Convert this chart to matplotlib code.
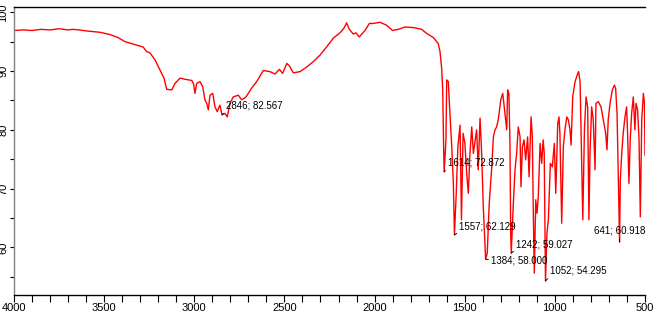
import matplotlib
matplotlib.use("Agg")
import matplotlib.pyplot as plt
from matplotlib.ticker import MultipleLocator

plt.rcParams['font.family'] = ['Liberation Sans', 'DejaVu Sans']

wavenumber = [
    4000, 3950, 3900, 3850, 3800, 3750, 3700, 3673, 3640, 3590, 3523, 3467, 3423, 3384,
    3329, 3284, 3264, 3246, 3218, 3181, 3168, 3153, 3125, 3107, 3079, 3051, 3014, 3004,
    2996, 2987, 2968, 2953, 2941, 2931, 2922, 2913, 2898, 2885, 2873, 2858, 2846, 2830,
    2817, 2802, 2784, 2756, 2737, 2713, 2682, 2654, 2617, 2580, 2552, 2528, 2510, 2487,
    2473, 2451, 2414, 2376, 2340, 2303, 2266, 2229, 2192, 2170, 2155, 2140, 2118, 2103,
    2085, 2053, 2029, 2007, 1970, 1933, 1900, 1868, 1831, 1785, 1739, 1711, 1674, 1647,
    1637, 1628, 1622, 1617, 1614, 1604, 1600, 1591, 1582, 1571, 1563, 1557, 1547, 1538,
    1526, 1518, 1509, 1499, 1489, 1480, 1471, 1461, 1452, 1434, 1425, 1415, 1406, 1397,
    1384, 1375, 1364, 1350, 1341, 1332, 1323, 1314, 1300, 1289, 1277, 1267, 1262, 1255,
    1249, 1245, 1242, 1231, 1221, 1212, 1203, 1193, 1188, 1180, 1171, 1162, 1151, 1143,
    1132, 1125, 1120, 1114, 1106, 1099, 1092, 1082, 1073, 1065, 1059, 1052, 1044, 1036,
    1025, 1014, 1003, 995, 984, 977, 972, 962, 953, 944, 934, 925, 916, 910,
    901, 888, 873, 868, 860, 851, 845, 836, 827, 818, 814, 811, 805, 796,
    787, 777, 772, 759, 744, 731, 718, 711, 704, 694, 681, 670, 663, 655,
    648, 641, 637, 629, 621, 611, 602, 596, 589, 582, 574, 565, 556, 550,
    541, 533, 526, 518, 509, 503, 500,
]
transmittance = [
    96.9, 97.0, 96.9, 97.1, 97.0, 97.2, 97.0, 97.1, 97.0, 96.8, 96.6, 96.2, 95.7, 95.0,
    94.5, 94.1, 93.3, 93.1, 91.9, 89.6, 88.8, 86.9, 86.8, 87.9, 88.8, 88.6, 88.4, 87.8,
    86.2, 87.9, 88.2, 87.3, 85.1, 84.5, 83.4, 85.9, 86.2, 83.9, 83.1, 84.2, 82.567, 82.8,
    82.2, 84.5, 85.6, 85.9, 85.1, 85.6, 87.1, 88.2, 90.1, 89.9, 89.5, 90.3, 89.6, 91.3,
    90.9, 89.7, 89.9, 90.7, 91.6, 92.7, 94.1, 95.6, 96.5, 97.3, 98.2, 97.1, 96.3, 96.5,
    95.8, 96.9, 98.1, 98.1, 98.3, 97.8, 96.9, 97.1, 97.5, 97.4, 97.1, 96.4, 95.7, 94.7,
    93.3, 90.5, 86.8, 77.1, 72.872, 78.3, 88.5, 88.2, 82.8, 76.6, 70.9, 62.129, 69.2, 77.1,
    80.8, 64.7, 79.4, 77.7, 72.6, 69.2, 76.0, 80.5, 76.0, 80.0, 73.2, 82.0, 76.0, 66.9,
    58.0, 59.0, 67.5, 73.7, 78.8, 80.0, 80.5, 81.7, 85.1, 86.2, 82.8, 80.0, 86.8, 86.2,
    77.7, 62.4, 59.027, 66.9, 73.2, 76.0, 80.5, 78.8, 70.3, 77.1, 78.3, 74.9, 78.8, 72.0,
    82.2, 78.8, 66.9, 55.6, 68.1, 65.8, 68.6, 77.7, 74.3, 78.3, 76.0, 54.295, 62.4, 64.7,
    74.3, 73.7, 77.7, 69.2, 81.1, 82.2, 79.4, 64.1, 77.1, 80.0, 82.2, 81.7, 80.0, 77.4,
    85.6, 88.2, 89.6, 89.9, 88.1, 74.3, 64.7, 80.0, 85.6, 83.9, 73.7, 64.7, 76.0, 83.9,
    81.7, 73.2, 84.5, 84.8, 83.9, 81.7, 79.4, 76.6, 81.7, 84.5, 86.8, 87.6, 87.1, 82.8,
    72.0, 60.918, 71.5, 76.0, 79.4, 82.2, 83.9, 78.8, 70.9, 78.3, 82.8, 85.6, 80.0, 84.5,
    83.4, 78.3, 65.2, 81.7, 86.2, 84.5, 75.7,
]

peak_wn = [2846, 1614, 1557, 1384, 1242, 1052, 641]
peak_T = [82.567, 72.872, 62.129, 58.000, 59.027, 54.295, 60.918]
label_offsets = [(4, 9), (4, 9), (5, 8), (5.5, -1), (5, 9), (4.5, 10), (0, 11)]
label_ha = ['left', 'left', 'left', 'left', 'left', 'left', 'center']
leader_rel = [(0, 0), (0, 0), (0, 0), (0, 0.5), (0, 0), (0, 0), (0.5, 0)]

fig = plt.figure(figsize=(6.62, 3.18), dpi=100)
ax = fig.add_axes([14 / 662, 23 / 318, 631 / 662, 288 / 318])

ax.plot(wavenumber, transmittance, color='#ff0000', lw=1.0)

ax.set_xlim(4000, 500)
ax.set_ylim(51.9, 100.9)

ax.spines['right'].set_visible(False)
ax.spines['top'].set_color('black')
ax.spines['top'].set_linewidth(1.0)
ax.spines['bottom'].set_color('black')
ax.spines['bottom'].set_linewidth(1.0)
ax.spines['left'].set_color('#808080')
ax.spines['left'].set_linewidth(1.0)

ax.xaxis.set_major_locator(MultipleLocator(500))
ax.xaxis.set_minor_locator(MultipleLocator(100))
ax.yaxis.set_major_locator(MultipleLocator(10))
ax.yaxis.set_minor_locator(MultipleLocator(5))

ax.tick_params(axis='x', which='both', direction='out', length=4.7, width=0.8,
               color='black', labelsize=8, pad=1)
ax.tick_params(axis='y', which='both', direction='out', length=2.9, width=0.8,
               color='black', labelsize=8, pad=1)
ax.tick_params(top=False, right=False)

ax.set_yticks([60, 70, 80, 90, 100])
for lab in ax.get_yticklabels():
    lab.set_rotation(90)
    lab.set_va('center')

for wn, t, off, ha, rp in zip(peak_wn, peak_T, label_offsets, label_ha, leader_rel):
    ax.annotate(f"{wn}; {t:.3f}", xy=(wn, t), xytext=off, textcoords='offset pixels',
                ha=ha, va='center', fontsize=7, color='black',
                arrowprops=dict(arrowstyle='-', color='black', lw=0.7,
                                shrinkA=0, shrinkB=0, relpos=rp))

fig.savefig('out.png', dpi=100)
